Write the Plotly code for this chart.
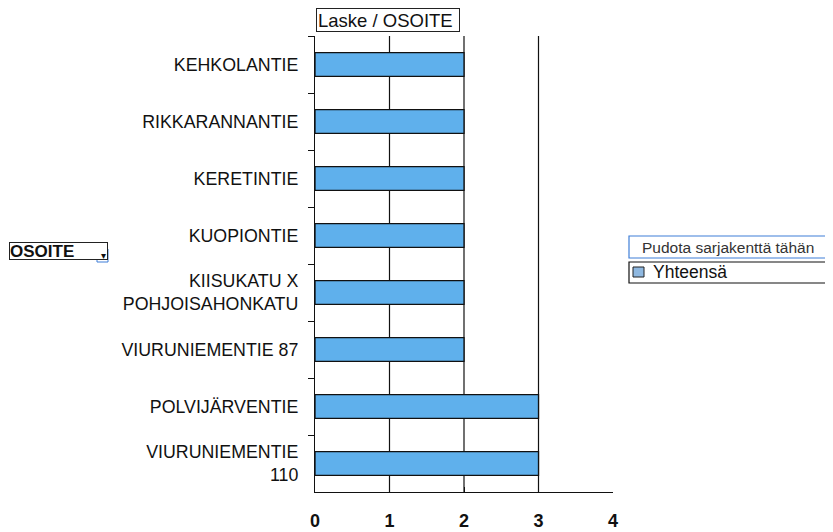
import plotly.graph_objects as go

categories = [
    "KEHKOLANTIE",
    "RIKKARANNANTIE",
    "KERETINTIE",
    "KUOPIONTIE",
    "KIISUKATU X<br>POHJOISAHONKATU",
    "VIURUNIEMENTIE 87",
    "POLVIJÄRVENTIE",
    "VIURUNIEMENTIE<br>110",
]
counts = [2, 2, 2, 2, 2, 2, 3, 3]
x_ticks = [0, 1, 2, 3, 4]
grid_vals = [1, 2, 3]
series_name = "Yhteensä"
data_field = "Laske / OSOITE"
row_field = "OSOITE"
drop_hint = "Pudota sarjakenttä tähän"

# the page body has an 8px margin, so the figure is offset by 8px in the window
OFF = 8
W, H = 833 - OFF, 532 - OFF
L, R, T, B = 307, 220, 28, 40
PW = W - L - R
PH = H - T - B

def px2x(px):
    return (px - OFF - L) / PW

def py2y(py):
    return (H - B - (py - OFF)) / PH

FONT = "Liberation Sans, Arial, sans-serif"

fig = go.Figure()
fig.add_trace(go.Bar(
    x=counts, y=categories, orientation="h", name=series_name,
    marker=dict(color="#5FB0EC", line=dict(color="#111111", width=1.3)),
    showlegend=False,
))

shapes = []
for g in grid_vals:
    shapes.append(dict(type="line", xref="x", yref="paper", x0=g, x1=g, y0=0, y1=1,
                       line=dict(color="#111111", width=1.2), layer="below"))

annotations = [
    dict(text=data_field, xref="paper", yref="paper", x=px2x(316), y=py2y(20.5),
         xanchor="left", yanchor="middle", showarrow=False, align="left",
         font=dict(family=FONT, size=18.5, color="#111111"),
         bordercolor="#222222", borderwidth=1, borderpad=1, bgcolor="white",
         width=140, height=20),
    dict(text=row_field, xref="paper", yref="paper", x=px2x(9), y=py2y(251),
         xanchor="left", yanchor="middle", showarrow=False, align="left",
         font=dict(family=FONT, size=17, color="#111111", weight="bold"),
         bordercolor="#222222", borderwidth=1, borderpad=0, width=97, height=16,
         bgcolor="white"),
    dict(text=drop_hint, xref="paper", yref="paper", x=px2x(640), y=py2y(247),
         xanchor="left", yanchor="middle", showarrow=False,
         font=dict(family=FONT, size=15.5, color="#333333")),
    dict(text=series_name, xref="paper", yref="paper", x=px2x(651), y=py2y(272),
         xanchor="left", yanchor="middle", showarrow=False,
         font=dict(family=FONT, size=17.5, color="#111111")),
    dict(text="▾", xref="paper", yref="paper", x=px2x(103), y=py2y(255),
         xanchor="center", yanchor="middle", showarrow=False,
         font=dict(family=FONT, size=10, color="#111111")),
]

shapes += [
    dict(type="rect", xref="paper", yref="paper", x0=px2x(629), x1=px2x(840),
         y0=py2y(258), y1=py2y(236), line=dict(color="#3F7FD8", width=1.2)),
    dict(type="rect", xref="paper", yref="paper", x0=px2x(629), x1=px2x(840),
         y0=py2y(283), y1=py2y(262), line=dict(color="#111111", width=1.2)),
    dict(type="rect", xref="paper", yref="paper", x0=px2x(633), x1=px2x(644),
         y0=py2y(277), y1=py2y(267), line=dict(color="#222222", width=1),
         fillcolor="#8FB8E0"),
    dict(type="rect", xref="paper", yref="paper", x0=px2x(97), x1=px2x(108),
         y0=py2y(262), y1=py2y(249), line=dict(color="#3F7FD8", width=1),
         fillcolor="white"),
]

fig.update_layout(
    width=W, height=H,
    margin=dict(l=L, r=R, t=T, b=B, autoexpand=False),
    paper_bgcolor="white", plot_bgcolor="white",
    bargap=0.58,
    showlegend=False,
    shapes=shapes,
    annotations=annotations,
    xaxis=dict(range=[0, 4], tickvals=x_ticks, showgrid=False, zeroline=False,
               automargin=False,
               showline=True, linecolor="#111111", linewidth=1.2,
               ticks="inside", ticklen=5, tickcolor="#111111",
               ticklabelstandoff=12,
               tickfont=dict(family=FONT, size=18, color="#111111", weight="bold")),
    yaxis=dict(type="category", categoryorder="array", categoryarray=categories,
               autorange="reversed", showgrid=False, zeroline=False,
               automargin=False,
               showline=True, linecolor="#111111", linewidth=1.2,
               ticks="outside", ticklen=6, tickcolor="#111111", tickson="boundaries",
               ticklabelstandoff=12,
               tickfont=dict(family=FONT, size=17.8, color="#111111")),
)

fig.write_html("out.html")
